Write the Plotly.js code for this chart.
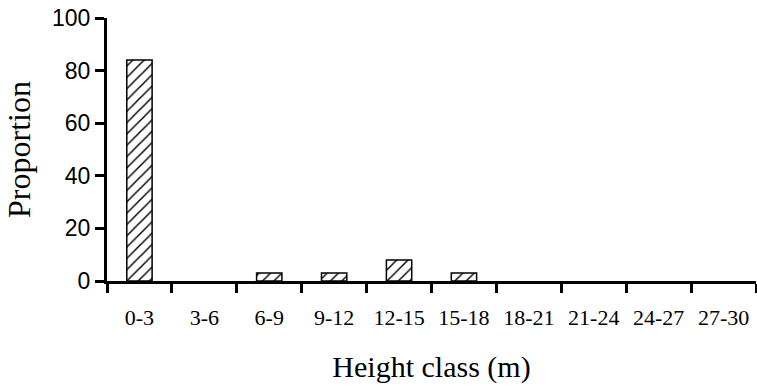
<!DOCTYPE html>
<html><head><meta charset="utf-8">
<script src="https://cdn.plot.ly/plotly-3.0.1.min.js"></script>
<style>html,body{margin:0;padding:0;background:#fff;}#chart{width:757px;height:391px;}</style>
</head><body><div id="chart"></div>
<script>
const categories = ["0-3","3-6","6-9","9-12","12-15","15-18","18-21","21-24","24-27","27-30"];
const proportion = [84, 0, 3, 3, 8, 3, 0, 0, 0, 0];
const yTicks = [0, 20, 40, 60, 80, 100];

const trace = {
  type: "bar",
  x: categories,
  y: proportion,
  marker: {
    color: "#ffffff",
    line: {color: "#000", width: proportion.map(v => v > 0 ? 1.5 : 0)},
    pattern: {shape: "/", fgcolor: "#000", bgcolor: "#fff", size: 8, solidity: 0.18}
  },
  hoverinfo: "skip"
};

const layout = {
  width: 757, height: 391,
  margin: {l: 107, r: 1, t: 18, b: 110},
  paper_bgcolor: "#fff", plot_bgcolor: "#fff",
  showlegend: false,
  bargap: 0.61,
  xaxis: {
    type: "category",
    showgrid: false, zeroline: false,
    showline: true, linecolor: "#000", linewidth: 3,
    ticks: "outside", tickson: "boundaries", ticklen: 9, tickwidth: 3, tickcolor: "#000",
    ticklabelstandoff: 15,
    tickfont: {family: "Liberation Serif, Times New Roman, serif", size: 22, color: "#000"},
    title: {text: "Height class (m)", font: {family: "Liberation Serif, Times New Roman, serif", size: 30, color: "#000"}, standoff: 27}
  },
  yaxis: {
    range: [0, 100],
    tickvals: yTicks,
    showgrid: false, zeroline: false,
    showline: true, linecolor: "#000", linewidth: 3,
    ticks: "outside", ticklen: 9, tickwidth: 3, tickcolor: "#000",
    tickfont: {family: "Liberation Sans, Arial, sans-serif", size: 23, color: "#000"},
    title: {text: "Proportion", font: {family: "Liberation Serif, Times New Roman, serif", size: 32, color: "#000"}, standoff: 12}
  }
};

Plotly.newPlot("chart", [trace], layout, {displayModeBar: false, staticPlot: true});
</script>
</body></html>
